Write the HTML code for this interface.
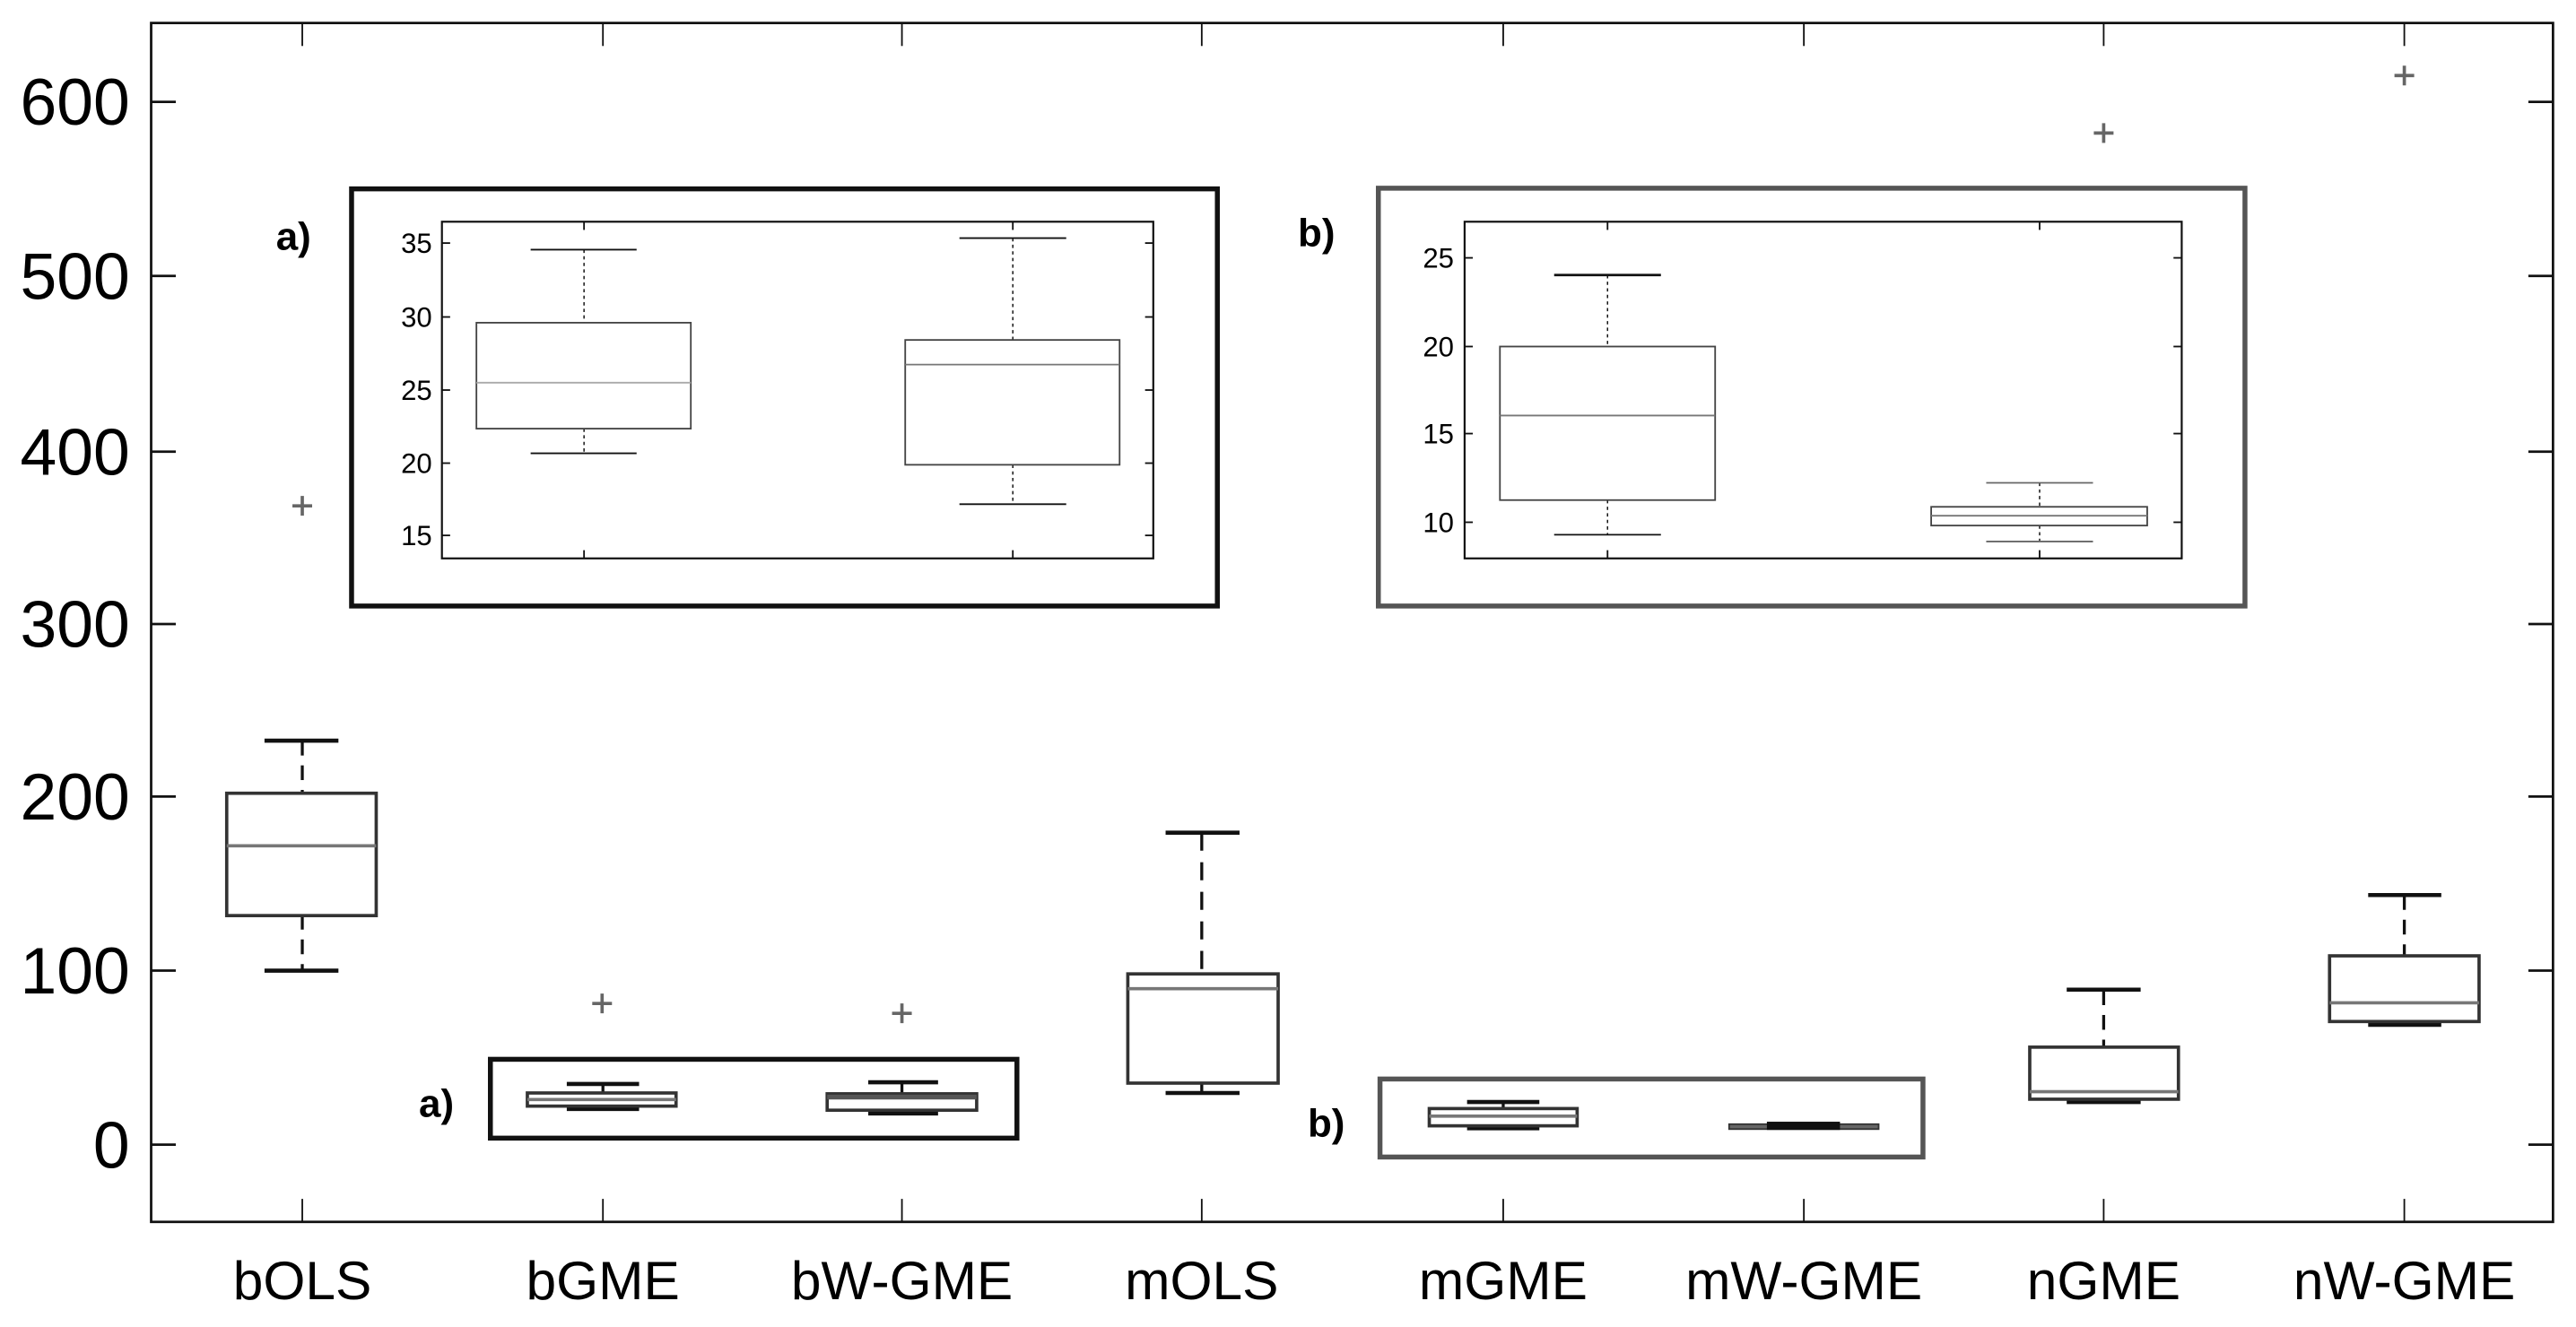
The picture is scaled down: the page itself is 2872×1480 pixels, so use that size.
<!DOCTYPE html>
<html><head><meta charset="utf-8"><style>
html,body{margin:0;padding:0;background:#fff;width:2872px;height:1480px;overflow:hidden}
svg{display:block}
text{font-family:"Liberation Sans",Arial,sans-serif}
</style></head><body>
<svg width="2872" height="1480" viewBox="0 0 1568 808" preserveAspectRatio="none" xmlns="http://www.w3.org/2000/svg">
<rect width="1568" height="808" fill="#fff"/>
<!-- main axes -->
<rect x="92" y="14" width="1462" height="730" fill="none" stroke="#111" stroke-width="1.5"/>
<g stroke="#111" stroke-width="1.5">
<line x1="92" y1="62" x2="107" y2="62"/><line x1="92" y1="168" x2="107" y2="168"/><line x1="92" y1="275" x2="107" y2="275"/><line x1="92" y1="380" x2="107" y2="380"/><line x1="92" y1="485" x2="107" y2="485"/><line x1="92" y1="591" x2="107" y2="591"/><line x1="92" y1="697" x2="107" y2="697"/>
<line x1="1539" y1="62" x2="1554" y2="62"/><line x1="1539" y1="168" x2="1554" y2="168"/><line x1="1539" y1="275" x2="1554" y2="275"/><line x1="1539" y1="380" x2="1554" y2="380"/><line x1="1539" y1="485" x2="1554" y2="485"/><line x1="1539" y1="591" x2="1554" y2="591"/><line x1="1539" y1="697" x2="1554" y2="697"/>
</g>
<g stroke="#111" stroke-width="1">
<line x1="184" y1="14" x2="184" y2="28"/><line x1="367" y1="14" x2="367" y2="28"/><line x1="549" y1="14" x2="549" y2="28"/><line x1="731.5" y1="14" x2="731.5" y2="28"/><line x1="915" y1="14" x2="915" y2="28"/><line x1="1098" y1="14" x2="1098" y2="28"/><line x1="1280.5" y1="14" x2="1280.5" y2="28"/><line x1="1463.5" y1="14" x2="1463.5" y2="28"/>
<line x1="184" y1="730" x2="184" y2="744"/><line x1="367" y1="730" x2="367" y2="744"/><line x1="549" y1="730" x2="549" y2="744"/><line x1="731.5" y1="730" x2="731.5" y2="744"/><line x1="915" y1="730" x2="915" y2="744"/><line x1="1098" y1="730" x2="1098" y2="744"/><line x1="1280.5" y1="730" x2="1280.5" y2="744"/><line x1="1463.5" y1="730" x2="1463.5" y2="744"/>
</g>
<g font-size="40" text-anchor="end" fill="#000">
<text x="79" y="76">600</text><text x="79" y="182">500</text><text x="79" y="289">400</text><text x="79" y="394">300</text><text x="79" y="499">200</text><text x="79" y="605">100</text><text x="79" y="711">0</text>
</g>
<g font-size="33" text-anchor="middle" fill="#000">
<text x="184" y="791">bOLS</text><text x="367" y="791">bGME</text><text x="549" y="791">bW-GME</text><text x="731.5" y="791">mOLS</text><text x="915" y="791">mGME</text><text x="1098" y="791">mW-GME</text><text x="1280.5" y="791">nGME</text><text x="1463.5" y="791">nW-GME</text>
</g>
<!-- outliers -->
<g stroke="#666" stroke-width="2">
<path d="M178 308h12M184 302v12"/>
<path d="M360.5 611h12M366.5 605v12"/>
<path d="M543 617h12M549 611v12"/>
<path d="M1274.5 81h12M1280.5 75v12"/>
<path d="M1457.5 46h12M1463.5 40v12"/>
</g>
<!-- bOLS -->
<g>
<line x1="184" y1="451" x2="184" y2="483" stroke="#111" stroke-width="1.8" stroke-dasharray="9,6"/>
<line x1="184" y1="557" x2="184" y2="591" stroke="#111" stroke-width="1.8" stroke-dasharray="9,6"/>
<line x1="161" y1="451" x2="206" y2="451" stroke="#111" stroke-width="2.5"/>
<line x1="161" y1="591" x2="206" y2="591" stroke="#111" stroke-width="2.5"/>
<rect x="138" y="483" width="91" height="74.5" fill="none" stroke="#333" stroke-width="2"/>
<line x1="138" y1="515" x2="229" y2="515" stroke="#777" stroke-width="2"/>
</g>
<!-- mOLS -->
<g>
<line x1="731.5" y1="507" x2="731.5" y2="593" stroke="#111" stroke-width="1.8" stroke-dasharray="11,7"/>
<line x1="731.5" y1="659.5" x2="731.5" y2="665" stroke="#111" stroke-width="1.8"/>
<line x1="709.5" y1="507" x2="754.5" y2="507" stroke="#111" stroke-width="2.5"/>
<line x1="709.5" y1="665.5" x2="754.5" y2="665.5" stroke="#111" stroke-width="2.5"/>
<rect x="686.5" y="593" width="91.5" height="66.5" fill="none" stroke="#333" stroke-width="2"/>
<line x1="686.5" y1="602" x2="778" y2="602" stroke="#777" stroke-width="2"/>
</g>
<!-- nGME -->
<g>
<line x1="1280.5" y1="603" x2="1280.5" y2="637.6" stroke="#111" stroke-width="1.8" stroke-dasharray="9,6"/>
<line x1="1258" y1="602.6" x2="1303" y2="602.6" stroke="#111" stroke-width="2.5"/>
<line x1="1258" y1="671" x2="1303" y2="671" stroke="#111" stroke-width="2.5"/>
<rect x="1235.5" y="637.6" width="90.5" height="31.7" fill="none" stroke="#333" stroke-width="2"/>
<line x1="1235.5" y1="664.7" x2="1326" y2="664.7" stroke="#777" stroke-width="2"/>
</g>
<!-- nW-GME -->
<g>
<line x1="1463.5" y1="545" x2="1463.5" y2="582" stroke="#111" stroke-width="1.8" stroke-dasharray="9,6"/>
<line x1="1441.5" y1="545" x2="1486" y2="545" stroke="#111" stroke-width="2.5"/>
<line x1="1441.5" y1="624" x2="1486" y2="624" stroke="#111" stroke-width="2.5"/>
<rect x="1418" y="582" width="91" height="40" fill="none" stroke="#333" stroke-width="2"/>
<line x1="1418" y1="610.6" x2="1509" y2="610.6" stroke="#777" stroke-width="2"/>
</g>
<!-- small inset a -->
<rect x="298.5" y="645" width="320.5" height="48" fill="none" stroke="#111" stroke-width="3"/>
<text x="255" y="680" font-size="24" font-weight="bold" fill="#000">a)</text>
<g>
<line x1="367" y1="660" x2="367" y2="665.5" stroke="#111" stroke-width="1.8"/>
<line x1="345" y1="660" x2="389" y2="660" stroke="#111" stroke-width="2.5"/>
<line x1="345" y1="675" x2="389" y2="675" stroke="#111" stroke-width="3"/>
<rect x="321" y="665.5" width="90.5" height="8" fill="#fff" stroke="#333" stroke-width="2"/>
<line x1="321" y1="669.5" x2="411.5" y2="669.5" stroke="#777" stroke-width="2"/>
<line x1="549" y1="659" x2="549" y2="666" stroke="#111" stroke-width="1.8"/>
<line x1="528.5" y1="659" x2="571" y2="659" stroke="#111" stroke-width="2.5"/>
<line x1="528.5" y1="678" x2="571" y2="678" stroke="#111" stroke-width="2.5"/>
<rect x="503.5" y="666" width="91" height="10" fill="#fff" stroke="#333" stroke-width="2"/>
<line x1="503.5" y1="668" x2="594.5" y2="668" stroke="#555" stroke-width="3"/>
</g>
<!-- small inset b -->
<rect x="840" y="657" width="330.5" height="47.5" fill="none" stroke="#555" stroke-width="3"/>
<text x="796" y="692" font-size="24" font-weight="bold" fill="#000">b)</text>
<g>
<line x1="915" y1="671" x2="915" y2="675" stroke="#111" stroke-width="1.8"/>
<line x1="893" y1="671" x2="937" y2="671" stroke="#111" stroke-width="2.5"/>
<line x1="893" y1="687" x2="937" y2="687" stroke="#111" stroke-width="2.5"/>
<rect x="870" y="675" width="90" height="10.5" fill="#fff" stroke="#333" stroke-width="2"/>
<line x1="870" y1="679.6" x2="960" y2="679.6" stroke="#777" stroke-width="2"/>
<rect x="1052.5" y="684.5" width="91" height="3" fill="#666" stroke="#333" stroke-width="1"/>
<rect x="1075.5" y="683" width="44.5" height="5" fill="#111"/>
</g>
<!-- big inset a -->
<rect x="214" y="115" width="527" height="254" fill="#fff" stroke="#111" stroke-width="3"/>
<text x="168" y="152" font-size="24" font-weight="bold" fill="#000">a)</text>
<rect x="269" y="135" width="433" height="205" fill="none" stroke="#111" stroke-width="1.2"/>
<g stroke="#111" stroke-width="1">
<line x1="269" y1="148" x2="274" y2="148"/><line x1="269" y1="193" x2="274" y2="193"/><line x1="269" y1="237.5" x2="274" y2="237.5"/><line x1="269" y1="282" x2="274" y2="282"/><line x1="269" y1="326" x2="274" y2="326"/>
<line x1="697" y1="148" x2="702" y2="148"/><line x1="697" y1="193" x2="702" y2="193"/><line x1="697" y1="237.5" x2="702" y2="237.5"/><line x1="697" y1="282" x2="702" y2="282"/><line x1="697" y1="326" x2="702" y2="326"/>
<line x1="355.5" y1="135" x2="355.5" y2="140"/><line x1="616.5" y1="135" x2="616.5" y2="140"/><line x1="355.5" y1="335" x2="355.5" y2="340"/><line x1="616.5" y1="335" x2="616.5" y2="340"/>
</g>
<g font-size="17" text-anchor="end" fill="#000">
<text x="263" y="154">35</text><text x="263" y="199">30</text><text x="263" y="243.5">25</text><text x="263" y="288">20</text><text x="263" y="332">15</text>
</g>
<g stroke="#111">
<line x1="355.5" y1="152" x2="355.5" y2="196.5" stroke-width="0.8" stroke-dasharray="2,2"/>
<line x1="355.5" y1="261" x2="355.5" y2="276" stroke-width="0.8" stroke-dasharray="2,2"/>
<line x1="323" y1="152" x2="387.5" y2="152" stroke-width="1"/>
<line x1="323" y1="276" x2="387.5" y2="276" stroke-width="1"/>
<rect x="290" y="196.5" width="130.5" height="64.5" fill="none" stroke="#444" stroke-width="1"/>
<line x1="290" y1="233" x2="420.5" y2="233" stroke="#aaa" stroke-width="1"/>
<line x1="616.5" y1="145" x2="616.5" y2="207" stroke-width="0.8" stroke-dasharray="2,2"/>
<line x1="616.5" y1="283" x2="616.5" y2="307" stroke-width="0.8" stroke-dasharray="2,2"/>
<line x1="584" y1="145" x2="649" y2="145" stroke-width="1"/>
<line x1="584" y1="307" x2="649" y2="307" stroke-width="1"/>
<rect x="551" y="207" width="130.5" height="76" fill="none" stroke="#444" stroke-width="1"/>
<line x1="551" y1="222" x2="681.5" y2="222" stroke="#777" stroke-width="1"/>
</g>
<!-- big inset b -->
<rect x="839" y="114.6" width="527.5" height="254.4" fill="#fff" stroke="#555" stroke-width="3"/>
<text x="790" y="150" font-size="24" font-weight="bold" fill="#000">b)</text>
<rect x="891.5" y="135" width="436.5" height="205" fill="none" stroke="#111" stroke-width="1.2"/>
<g stroke="#111" stroke-width="1">
<line x1="891.5" y1="157" x2="896.5" y2="157"/><line x1="891.5" y1="211" x2="896.5" y2="211"/><line x1="891.5" y1="264" x2="896.5" y2="264"/><line x1="891.5" y1="318" x2="896.5" y2="318"/>
<line x1="1323" y1="157" x2="1328" y2="157"/><line x1="1323" y1="211" x2="1328" y2="211"/><line x1="1323" y1="264" x2="1328" y2="264"/><line x1="1323" y1="318" x2="1328" y2="318"/>
<line x1="978.5" y1="135" x2="978.5" y2="140"/><line x1="1241.5" y1="135" x2="1241.5" y2="140"/><line x1="978.5" y1="335" x2="978.5" y2="340"/><line x1="1241.5" y1="335" x2="1241.5" y2="340"/>
</g>
<g font-size="17" text-anchor="end" fill="#000">
<text x="885" y="163">25</text><text x="885" y="217">20</text><text x="885" y="270">15</text><text x="885" y="324">10</text>
</g>
<g stroke="#111">
<line x1="978.5" y1="167.5" x2="978.5" y2="211" stroke-width="0.8" stroke-dasharray="2,2"/>
<line x1="978.5" y1="304.5" x2="978.5" y2="325.6" stroke-width="0.8" stroke-dasharray="2,2"/>
<line x1="946" y1="167.5" x2="1011" y2="167.5" stroke-width="1.5"/>
<line x1="946" y1="325.6" x2="1011" y2="325.6" stroke-width="1"/>
<rect x="913" y="211" width="131" height="93.5" fill="none" stroke="#444" stroke-width="1"/>
<line x1="913" y1="253" x2="1044" y2="253" stroke="#777" stroke-width="1"/>
<line x1="1241.5" y1="294" x2="1241.5" y2="308.6" stroke-width="0.8" stroke-dasharray="2,2"/>
<line x1="1241.5" y1="320" x2="1241.5" y2="329.7" stroke-width="0.8" stroke-dasharray="2,2"/>
<line x1="1209" y1="294" x2="1274" y2="294" stroke="#666" stroke-width="1"/>
<line x1="1209" y1="329.7" x2="1274" y2="329.7" stroke="#666" stroke-width="1"/>
<rect x="1175.5" y="308.6" width="131.5" height="11.4" fill="none" stroke="#444" stroke-width="1"/>
<line x1="1175.5" y1="314" x2="1307" y2="314" stroke="#777" stroke-width="1"/>
</g>
</svg>
</body></html>
